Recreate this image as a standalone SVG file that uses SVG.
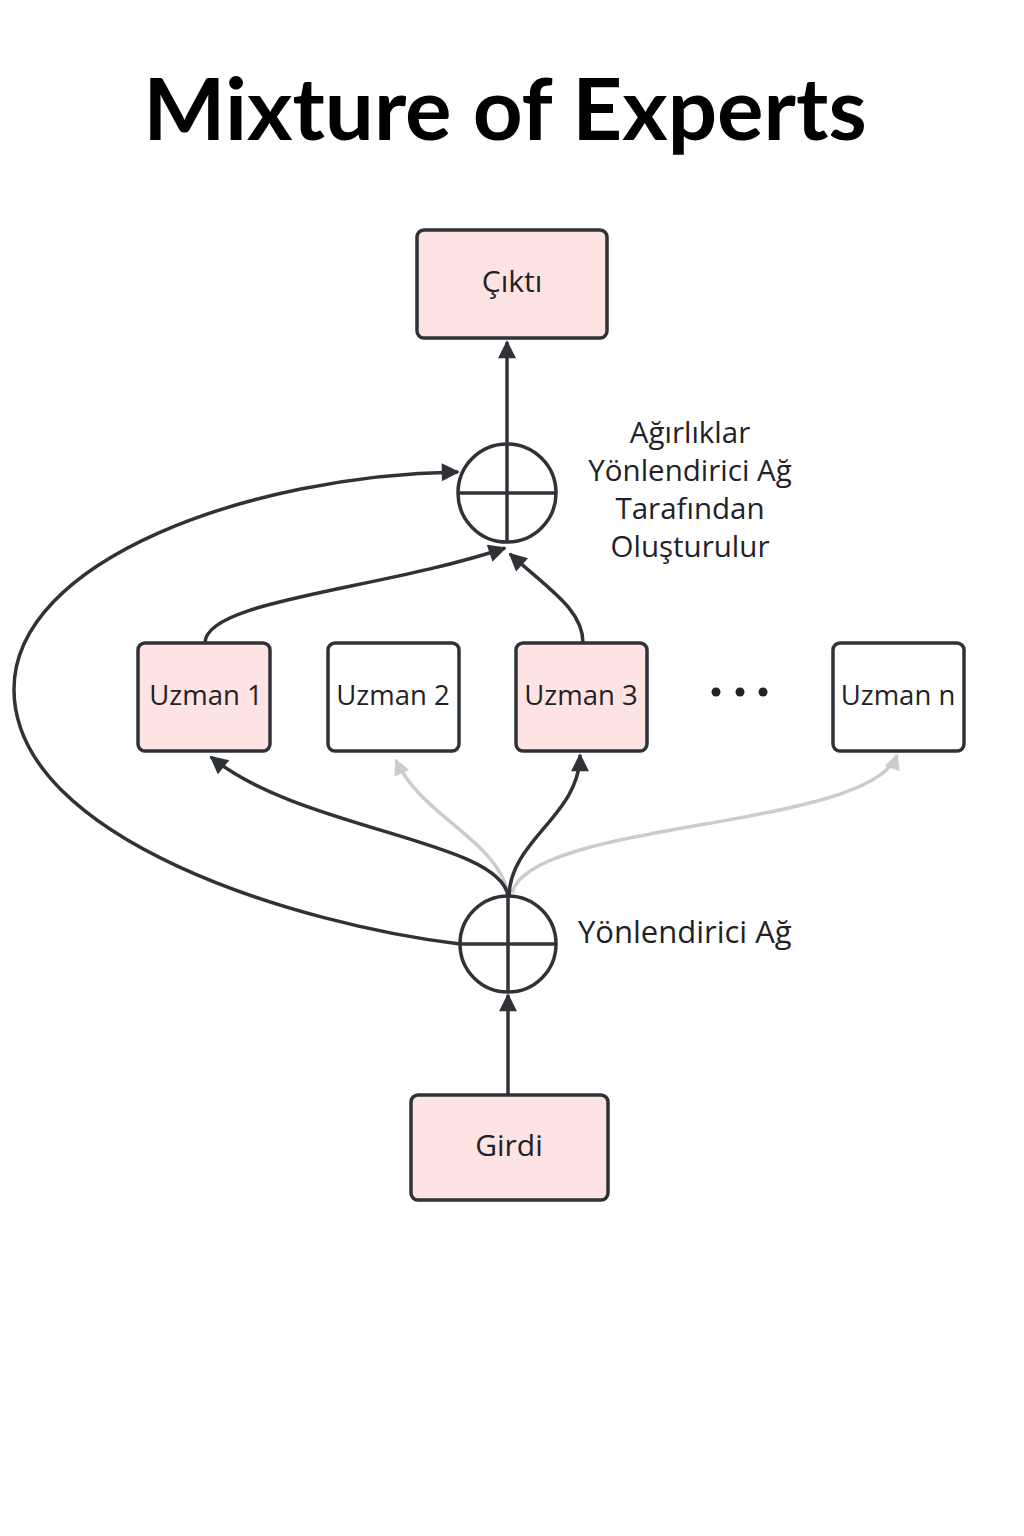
<svg xmlns="http://www.w3.org/2000/svg" width="1024" height="1536" viewBox="0 0 1024 1536">
<defs>
<style>
.box{stroke:#2f3338;stroke-width:3.5}
.pink{fill:#fde3e2}
.white{fill:#ffffff}
.lbl{font-family:"Open Sans","Liberation Sans",sans-serif;font-size:27.5px;fill:#1f2226;text-anchor:middle}
.big{font-size:30px}
.side{font-family:"Open Sans","Liberation Sans",sans-serif;font-size:29.5px;fill:#1f2226}
.edge{fill:none;stroke:#2f3338;stroke-width:3.5}
.grey{fill:none;stroke:#cccccc;stroke-width:3.5}
.sum{fill:#ffffff;stroke:#2f3338;stroke-width:3.5}
</style>
<marker id="ahd" viewBox="0 0 10 10" refX="9" refY="5" markerWidth="25" markerHeight="18" markerUnits="userSpaceOnUse" orient="auto">
<path d="M0,0 L10,5 L0,10 z" fill="#2f3338"/>
</marker>
<marker id="ahg" viewBox="0 0 10 10" refX="9" refY="5" markerWidth="22" markerHeight="16" markerUnits="userSpaceOnUse" orient="auto">
<path d="M0,0 L10,5 L0,10 z" fill="#cccccc"/>
</marker>
</defs>
<rect width="1024" height="1536" fill="#ffffff"/>
<text x="505" y="140" font-family="Lato,'Liberation Sans',sans-serif" font-weight="bold" font-size="87" text-anchor="middle" fill="#000000">Mixture of Experts</text>

<g id="connectors">
<path class="grey" d="M508,893 C497,840 420,815 396,760" marker-end="url(#ahg)"/>
<path class="grey" d="M512,893 C530,820 870,830 897,755" marker-end="url(#ahg)"/>
<path class="edge" d="M508,896 C500,840 300,830 211,757" marker-end="url(#ahd)"/>
<path class="edge" d="M509,896 C510,840 580,815 580,755" marker-end="url(#ahd)"/>
<path class="edge" d="M460,944 C300,925 15,840 14,690 C13,560 250,475 458,472" marker-end="url(#ahd)"/>
<path class="edge" d="M205,643 C205,600 380,590 505,548" marker-end="url(#ahd)"/>
<path class="edge" d="M583,643 C583,610 550,590 510,554" marker-end="url(#ahd)"/>
<path class="edge" d="M507,443 L507,342" marker-end="url(#ahd)"/>
<path class="edge" d="M508,1095 L508,995" marker-end="url(#ahd)"/>
</g>

<g id="cikti">
<rect class="box pink" x="417" y="230" width="190" height="108" rx="7"/>
<text class="lbl big" x="512" y="292">Çıktı</text>
</g>
<g id="sum-top">
<circle class="sum" cx="507" cy="493" r="49"/>
<path class="edge" d="M458,493 H556 M507,444 V542"/>
</g>
<g id="weights-label">
<text class="side" text-anchor="middle" x="690" y="443">Ağırlıklar</text>
<text class="side" text-anchor="middle" x="690" y="481">Yönlendirici Ağ</text>
<text class="side" text-anchor="middle" x="690" y="519">Tarafından</text>
<text class="side" text-anchor="middle" x="690" y="557">Oluşturulur</text>
</g>
<g id="uzman1">
<rect class="box pink" x="138" y="643" width="132" height="108" rx="7"/>
<text class="lbl" x="206" y="705">Uzman 1</text>
</g>
<g id="uzman2">
<rect class="box white" x="328" y="643" width="131" height="108" rx="7"/>
<text class="lbl" x="393" y="705">Uzman 2</text>
</g>
<g id="uzman3">
<rect class="box pink" x="516" y="643" width="131" height="108" rx="7"/>
<text class="lbl" x="581" y="705">Uzman 3</text>
</g>
<g id="dots">
<circle cx="716" cy="692" r="4.5" fill="#1f2226"/>
<circle cx="740" cy="692" r="4.5" fill="#1f2226"/>
<circle cx="763" cy="692" r="4.5" fill="#1f2226"/>
</g>
<g id="uzmann">
<rect class="box white" x="833" y="643" width="131" height="108" rx="7"/>
<text class="lbl" x="898" y="705">Uzman n</text>
</g>
<g id="sum-bottom">
<circle class="sum" cx="508" cy="944" r="48"/>
<path class="edge" d="M460,944 H556 M508,896 V992"/>
</g>
<g id="router-label">
<text class="side" style="font-size:31px" x="578" y="943">Yönlendirici Ağ</text>
</g>
<g id="girdi">
<rect class="box pink" x="411" y="1095" width="197" height="105" rx="7"/>
<text class="lbl big" x="509" y="1156">Girdi</text>
</g>
</svg>
